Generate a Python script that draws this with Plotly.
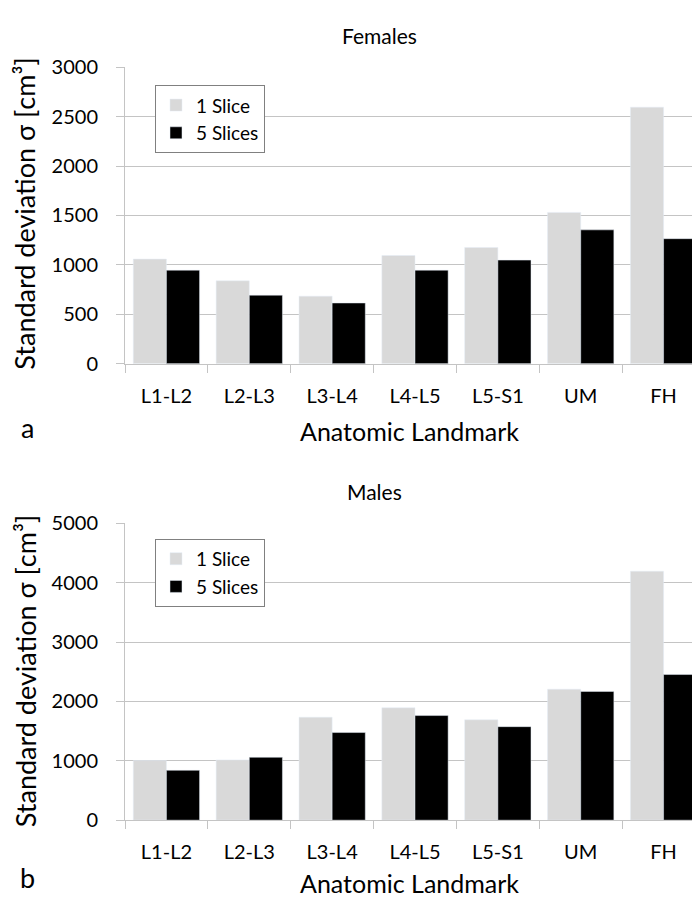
import plotly.graph_objects as go

categories = ["L1-L2", "L2-L3", "L3-L4", "L4-L5", "L5-S1", "UM", "FH"]
fem_1slice = [1058, 838, 683, 1094, 1176, 1531, 2596]
fem_5slices = [946, 693, 614, 946, 1048, 1354, 1265]
male_1slice = [1004, 1015, 1734, 1893, 1690, 2206, 4193]
male_5slices = [840, 1059, 1476, 1762, 1575, 2168, 2453]

LIGHT = "#d9d9d9"
DARK = "#000000"
GRID = "#c4c4c4"
FONT = "Lato"
W, H = 700, 903

def px_y(p):
    return 1 - p / H

fig = go.Figure()
fig.add_trace(go.Bar(x=categories, y=fem_1slice, name="1 Slice", marker_color=LIGHT,
                     xaxis="x", yaxis="y", legend="legend", legendgroup="a"))
fig.add_trace(go.Bar(x=categories, y=fem_5slices, name="5 Slices", marker_color=DARK,
                     xaxis="x", yaxis="y", legend="legend", legendgroup="b"))
fig.add_trace(go.Bar(x=categories, y=male_1slice, name="1 Slice", marker_color=LIGHT,
                     xaxis="x2", yaxis="y2", legend="legend2", legendgroup="c"))
fig.add_trace(go.Bar(x=categories, y=male_5slices, name="5 Slices", marker_color=DARK,
                     xaxis="x2", yaxis="y2", legend="legend2", legendgroup="d"))
# transparent copies so the label-only y axes are drawn
fig.add_trace(go.Bar(x=categories, y=fem_1slice, opacity=0, showlegend=False, hoverinfo="skip",
                     xaxis="x", yaxis="y3"))
fig.add_trace(go.Bar(x=categories, y=male_1slice, opacity=0, showlegend=False, hoverinfo="skip",
                     xaxis="x2", yaxis="y4"))

xdom = [117 / W, 697 / W]
top_dom = [px_y(352), px_y(47.5)]
bot_dom = [px_y(821), px_y(516)]
fem_range = [0, 3000]
male_range = [0, 5000]

xcommon = dict(domain=xdom, type="category", showgrid=False, showline=True, linecolor=GRID,
               linewidth=1, ticks="outside", tickson="boundaries", ticklen=8, tickcolor=GRID,
               ticklabelstandoff=14,
               tickfont=dict(family=FONT, size=20, color="#000"), fixedrange=True)
ycommon = dict(showgrid=True, gridcolor=GRID, gridwidth=1, showline=True, linecolor=GRID,
               ticks="outside", ticklen=8, tickcolor=GRID, zeroline=False,
               showticklabels=False)
ylabels = dict(showgrid=False, showline=False, zeroline=False, ticks="outside", ticklen=22,
               tickcolor="rgba(0,0,0,0)", side="left",
               tickfont=dict(family=FONT, size=20, color="#000"))

legcommon = dict(xanchor="left", yanchor="top", bordercolor="#808080",
                 borderwidth=1, bgcolor="white", font=dict(family=FONT, size=19),
                 tracegroupgap=9, traceorder="normal", itemwidth=30)

fig.update_layout(
    width=W, height=H, margin=dict(l=0, r=0, t=0, b=0),
    paper_bgcolor="white", plot_bgcolor="white",
    barmode="group", bargap=0.2, bargroupgap=0,
    font=dict(family=FONT, color="#000"),
    xaxis=dict(anchor="y", **xcommon),
    yaxis=dict(domain=top_dom, range=fem_range, dtick=500, anchor="x", **ycommon),
    yaxis3=dict(domain=top_dom, range=fem_range, dtick=500, anchor="x", overlaying="y", **ylabels),
    xaxis2=dict(anchor="y2", **xcommon),
    yaxis2=dict(domain=bot_dom, range=male_range, dtick=1000, anchor="x2", **ycommon),
    yaxis4=dict(domain=bot_dom, range=male_range, dtick=1000, anchor="x2", overlaying="y2", **ylabels),
    legend=dict(x=147 / W, y=px_y(66), **legcommon),
    legend2=dict(x=147 / W, y=px_y(532), **legcommon),
)

ann = []
def text(x, y, s, size, angle=0, xanchor="center"):
    ann.append(dict(x=x / W, y=px_y(y), xref="paper", yref="paper", text=s, showarrow=False,
                    font=dict(family=FONT, size=size, color="#000"), textangle=angle,
                    xanchor=xanchor, yanchor="middle"))

text(371, 15, "Females", 21)
text(366, 483, "Males", 21)
text(401, 421, "Anatomic Landmark", 25)
text(401, 886, "Anatomic Landmark", 25)
text(19, 418, "a", 27)
text(19, 880, "b", 27)
text(17, 198, "Standard deviation σ [cm³]", 27, angle=-90)
text(17, 668, "Standard deviation σ [cm³]", 27, angle=-90)
fig.update_layout(annotations=ann)

fig.write_html("out.html")
